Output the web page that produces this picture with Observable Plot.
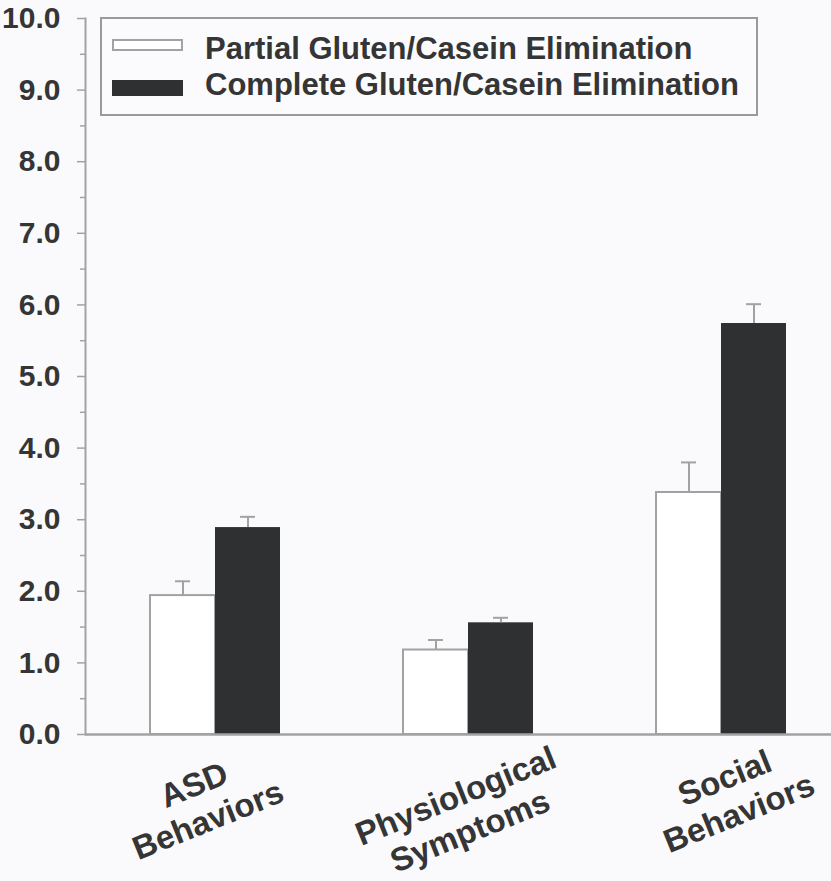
<!DOCTYPE html>
<html>
<head>
<meta charset="utf-8">
<script src="https://cdn.jsdelivr.net/npm/d3@7"></script>
<script src="https://cdn.jsdelivr.net/npm/@observablehq/plot@0.6"></script>
<style>
  html, body { margin: 0; padding: 0; background: #fafafc; }
  #wrap { position: relative; width: 831px; height: 881px; overflow: hidden; font-family: "Liberation Sans", Arial, sans-serif; }
  #legend { position: absolute; left: 100px; top: 17px; width: 658px; height: 99px; border: 2px solid #9a9a9a; box-sizing: border-box; background: #fbfbfd; }
  .sw { position: absolute; left: 10px; width: 71px; box-sizing: border-box; }
  .lt { position: absolute; left: 103px; font-size: 31px; font-weight: bold; line-height: 31px; color: #353535; white-space: nowrap; }
</style>
</head>
<body>
<div id="wrap">
  <div id="chart"></div>
  <div id="legend"></div>
</div>
<script>
// ---- data ----
const categories = ["ASD Behaviors", "Physiological Symptoms", "Social Behaviors"];
const categoryLabels = ["ASD\nBehaviors", "Physiological\nSymptoms", "Social\nBehaviors"];
const seriesNames = ["Partial Gluten/Casein Elimination", "Complete Gluten/Casein Elimination"];
const partialMeans = [1.94, 1.18, 3.38];
const partialErrors = [0.20, 0.14, 0.42];
const completeMeans = [2.89, 1.56, 5.74];
const completeErrors = [0.15, 0.07, 0.27];
const yTicks = [0, 1, 2, 3, 4, 5, 6, 7, 8, 9, 10];
const yMinorTicks = [0.5, 1.5, 2.5, 3.5, 4.5, 5.5, 6.5, 7.5, 8.5, 9.5];

// ---- tables ----
const partialRows = categories.map((c, i) => ({category: c, value: partialMeans[i], error: partialErrors[i]}));
const completeRows = categories.map((c, i) => ({category: c, value: completeMeans[i], error: completeErrors[i]}));
const labelRows = categories.map((c, i) => ({category: c, label: categoryLabels[i]}));

const gray = "#a2a2a2";
const dark = "#2f3031";

// label style; small per-label nudges mimic the original layout
const labelStyle = {x: "category", text: "label", frameAnchor: "bottom", lineAnchor: "middle", textAnchor: "middle",
  rotate: -22, fontSize: 33, fontWeight: "bold", lineHeight: 1.15, fill: "#353535"};
const labelNudges = [[-15, 67], [-6, 78], [10, 60]];

const chart = Plot.plot({
  width: 831,
  height: 881,
  marginLeft: 85,
  marginRight: 0,
  marginTop: 18,
  marginBottom: 147,
  style: {background: "#fafafc", fontFamily: "'Liberation Sans', Arial, sans-serif", fontSize: "30px", fontWeight: "bold", color: "#353535"},
  x: {domain: categories, axis: null, paddingInner: 0.486, paddingOuter: 0.2154, align: 0.59},
  y: {domain: [0, 10]},
  marks: [
    Plot.barY(partialRows, {x: "category", y: "value", fill: "white", stroke: gray, strokeWidth: 2, insetRight: 65}),
    Plot.barY(completeRows, {x: "category", y: "value", fill: dark, insetLeft: 65}),
    Plot.ruleX(partialRows, {x: "category", y1: "value", y2: d => d.value + d.error, dx: -32.5, stroke: gray, strokeWidth: 2}),
    Plot.tickY(partialRows, {x: "category", y: d => d.value + d.error, insetLeft: 25, insetRight: 90, stroke: gray, strokeWidth: 2}),
    Plot.ruleX(completeRows, {x: "category", y1: "value", y2: d => d.value + d.error, dx: 32.5, stroke: gray, strokeWidth: 2}),
    Plot.tickY(completeRows, {x: "category", y: d => d.value + d.error, insetLeft: 90, insetRight: 25, stroke: gray, strokeWidth: 2}),
    Plot.ruleY([0], {stroke: gray, strokeWidth: 2.5}),
    Plot.frame({anchor: "left", stroke: gray, strokeWidth: 2}),
    Plot.axisY({ticks: yMinorTicks, tickSize: 5, text: null, stroke: gray, strokeWidth: 1.5, label: null}),
    Plot.axisY({ticks: yTicks, tickSize: 8, tickPadding: 17, tickFormat: d3.format(".1f"), stroke: gray, fill: "#353535", strokeWidth: 1.5, label: null, fontSize: 30, fontWeight: "bold"}),
    ...labelRows.map((row, i) => Plot.text([row], {...labelStyle, dx: labelNudges[i][0], dy: labelNudges[i][1]}))
  ]
});
document.getElementById("chart").appendChild(chart);

// ---- legend ----
const legend = document.getElementById("legend");
const swatchStyles = [
  {top: 20, height: 12, background: "white", border: "2px solid " + gray},
  {top: 61, height: 16, background: dark, border: "none"}
];
const textTops = [14, 50];
seriesNames.forEach((name, i) => {
  const sw = document.createElement("div");
  sw.className = "sw";
  sw.style.top = swatchStyles[i].top + "px";
  sw.style.height = swatchStyles[i].height + "px";
  sw.style.background = swatchStyles[i].background;
  sw.style.border = swatchStyles[i].border;
  legend.appendChild(sw);
  const t = document.createElement("div");
  t.className = "lt";
  t.style.top = textTops[i] + "px";
  t.textContent = name;
  legend.appendChild(t);
});
</script>
</body>
</html>
